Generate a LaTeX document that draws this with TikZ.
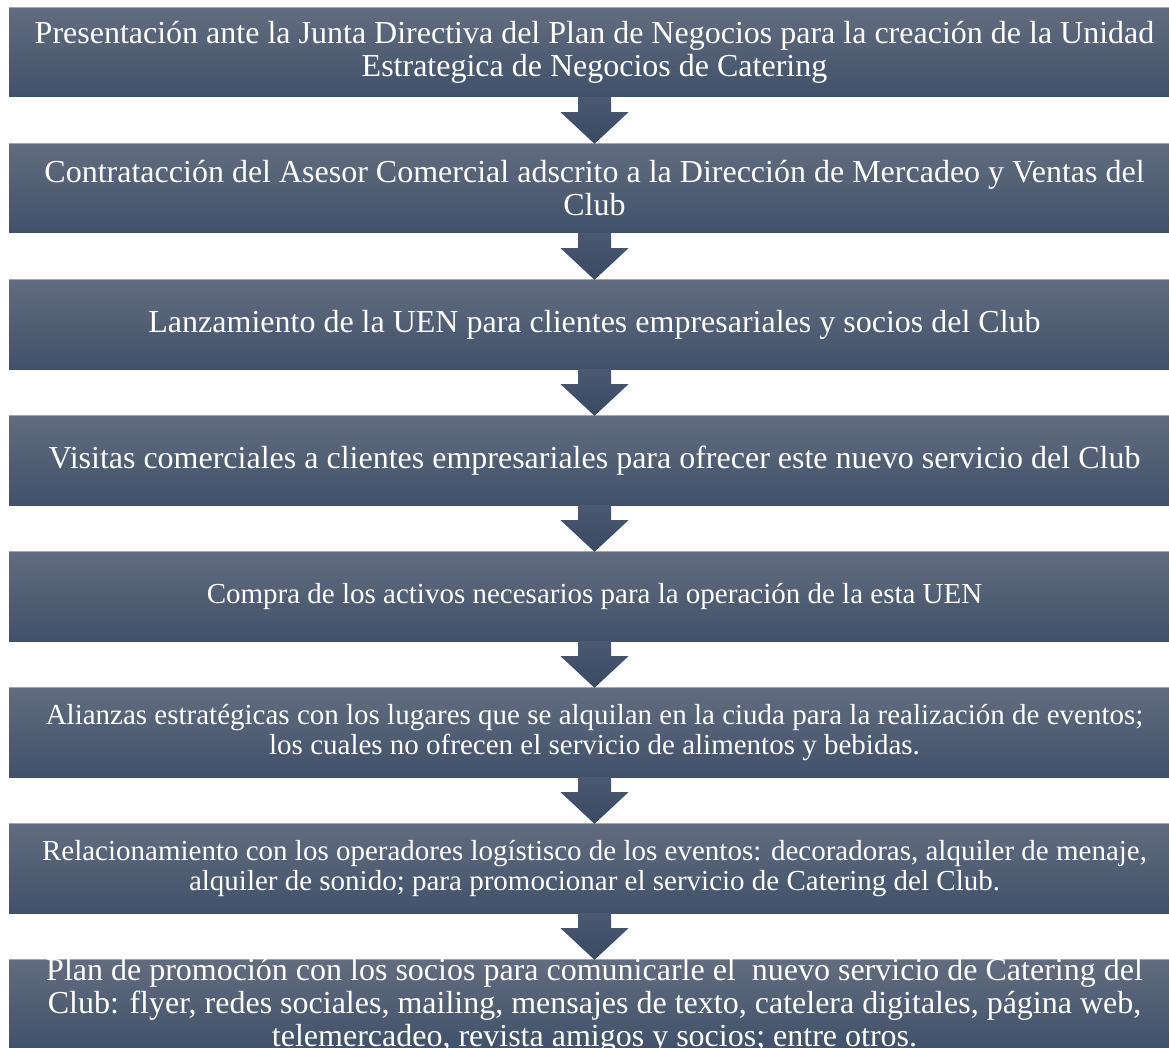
\documentclass[tikz,border=0pt]{standalone}
\usepackage{fontspec}
\setmainfont{Liberation Serif}
\usetikzlibrary{calc}
\definecolor{boxtop}{RGB}{98,108,127}
\definecolor{boxbot}{RGB}{64,81,106}
\definecolor{boxrim}{RGB}{160,166,176}
\definecolor{arrtop}{RGB}{74,88,112}
\definecolor{arrbot}{RGB}{58,74,99}
\tikzset{
  stepbox/.style={rectangle, minimum width=1171pt, minimum height=89pt, inner sep=0pt,
    top color=boxtop, bottom color=boxbot, draw=none, text=white, align=center},
  bigtext/.style={font=\fontsize{32}{33}\selectfont},
  smalltext/.style={font=\fontsize{29}{30}\selectfont},
  flowarrow/.style={top color=arrtop, bottom color=arrbot, draw=none}
}
\newcommand{\flowdown}[2]{%
  \path[flowarrow]
    ($(#1.south)+(-16.5,0)$) -- ($(#1.south)+(16.5,0)$) --
    ($(#1.south)+(16.5,15)$) -- ($(#1.south)+(34,15)$) --
    (#2.north) -- ($(#1.south)+(-34,15)$) --
    ($(#1.south)+(-16.5,15)$) -- cycle;}
\begin{document}
\begin{tikzpicture}[x=1pt,y=-1pt]
\useasboundingbox (0,0) rectangle (1169,1048);
\clip (0,0) rectangle (1169,1048);
\node[stepbox, bigtext] (b1) at (594.5,52.5) {Presentación ante la Junta Directiva del Plan de Negocios para la creación de la Unidad\\Estrategica de Negocios de Catering};
\node[stepbox, bigtext] (b2) at (594.5,188.5) {Contratacción del Asesor Comercial adscrito a la Dirección de Mercadeo y Ventas del\\Club};
\node[stepbox, bigtext] (b3) at (594.5,324.5) {Lanzamiento de la UEN para clientes empresariales y socios del Club};
\node[stepbox, bigtext] (b4) at (594.5,460.5) {Visitas comerciales a clientes empresariales para ofrecer este nuevo servicio del Club};
\node[stepbox, smalltext] (b5) at (594.5,596.5) {Compra de los activos necesarios para la operación de la esta UEN};
\node[stepbox, smalltext] (b6) at (594.5,732.5) {Alianzas estratégicas con los lugares que se alquilan en la ciuda para la realización de eventos;\\los cuales no ofrecen el servicio de alimentos y bebidas.};
\node[stepbox, smalltext] (b7) at (594.5,868.5) {Relacionamiento con los operadores logístisco de los eventos: decoradoras, alquiler de menaje,\\alquiler de sonido; para promocionar el servicio de Catering del Club.};
\node[stepbox] (b8) at (594.5,1004.5) {};
\foreach \b in {b1,b2,b3,b4,b5,b6,b7,b8}
  \draw[boxrim, line width=1pt] (\b.north west) -- (\b.north east);
\flowdown{b1}{b2}
\flowdown{b2}{b3}
\flowdown{b3}{b4}
\flowdown{b4}{b5}
\flowdown{b5}{b6}
\flowdown{b6}{b7}
\flowdown{b7}{b8}
\node[text=white, align=center, inner sep=0pt, anchor=north, bigtext] (t8) at (594.5,958.5)
  {Plan de promoción con los socios para comunicarle el \ nuevo servicio de Catering del\\Club: flyer, redes sociales, mailing, mensajes de texto, catelera digitales, página web,\\telemercadeo, revista amigos y socios; entre otros.};
\end{tikzpicture}
\end{document}
